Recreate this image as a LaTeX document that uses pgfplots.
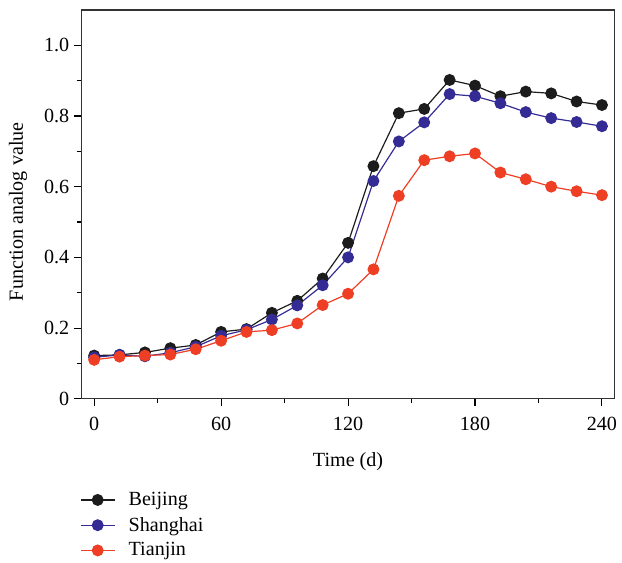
\documentclass[border=0pt]{standalone}
\usepackage{pgfplots}
\pgfplotsset{compat=1.18}
\usepackage{fontspec}
\setmainfont{Liberation Serif}

\definecolor{bjcol}{RGB}{28,28,28}
\definecolor{shcol}{RGB}{52,44,148}
\definecolor{tjcol}{RGB}{238,62,36}

\begin{document}
\begin{tikzpicture}
\begin{axis}[
  scale only axis,
  width=358pt, height=261pt,
  xmin=-6, xmax=246,
  ymin=0, ymax=1.1,
  xtick={0,60,120,180,240},
  minor xtick={30,90,150,210},
  ytick={0,0.2,0.4,0.6,0.8,1.0},
  yticklabels={0,0.2,0.4,0.6,0.8,1.0},
  minor ytick={0.1,0.3,0.5,0.7,0.9},
  tick align=outside,
  xtick pos=bottom, ytick pos=left,
  major tick length=4.7pt, minor tick length=3pt,
  tick style={black, line width=0.7pt},
  axis line style={line width=0.9pt, black!80},
  font=\fontsize{13.5}{16}\selectfont,
  /pgf/number format/assume math mode=true,
  xticklabel style={yshift=-4pt},
  xlabel={Time (d)},
  ylabel={Function analog value},
  xlabel style={at={(axis description cs:0.5,-0.162)}, anchor=center},
  ylabel style={at={(axis description cs:-0.119,0.481)}, anchor=center},
  legend style={draw=none, fill=none, at={(axis description cs:-0.003,-0.232)}, anchor=north west,
    cells={anchor=west}, row sep=2.3pt, inner sep=0pt,
    nodes={inner sep=2pt},
    /tikz/every odd column/.append style={column sep=7pt},
    font=\fontsize{13.5}{16}\selectfont},
  legend image code/.code={\draw[mark repeat=2,mark phase=2] plot coordinates {(0cm,0cm) (0.4cm,0cm) (0.8cm,0cm)};},
  every axis plot/.append style={line width=0.8pt, mark=*, mark size=3.6pt},
]
\addplot[color=bjcol, mark options={fill=bjcol}] coordinates {
(0,0.122) (12,0.124) (24,0.131) (36,0.143) (48,0.152) (60,0.189) (72,0.197)
(84,0.243) (96,0.277) (108,0.340) (120,0.441) (132,0.658) (144,0.808)
(156,0.820) (168,0.902) (180,0.886) (192,0.856) (204,0.869) (216,0.864)
(228,0.841) (240,0.831)};
\addlegendentry{Beijing}
\addplot[color=shcol, mark options={fill=shcol}] coordinates {
(0,0.117) (12,0.124) (24,0.120) (36,0.130) (48,0.147) (60,0.178) (72,0.195)
(84,0.224) (96,0.264) (108,0.321) (120,0.400) (132,0.616) (144,0.728)
(156,0.782) (168,0.862) (180,0.856) (192,0.836) (204,0.811) (216,0.794)
(228,0.783) (240,0.771)};
\addlegendentry{Shanghai}
\addplot[color=tjcol, mark options={fill=tjcol}] coordinates {
(0,0.110) (12,0.119) (24,0.122) (36,0.125) (48,0.140) (60,0.164) (72,0.189)
(84,0.194) (96,0.213) (108,0.265) (120,0.297) (132,0.366) (144,0.574)
(156,0.675) (168,0.686) (180,0.694) (192,0.640) (204,0.621) (216,0.600)
(228,0.587) (240,0.576)};
\addlegendentry{Tianjin}
\end{axis}
% page margins around the plot area
\path (current axis.south west) ++(-54.7pt,-110pt);
\path (current axis.north east) ++(2pt,6.7pt);
\end{tikzpicture}
\end{document}
